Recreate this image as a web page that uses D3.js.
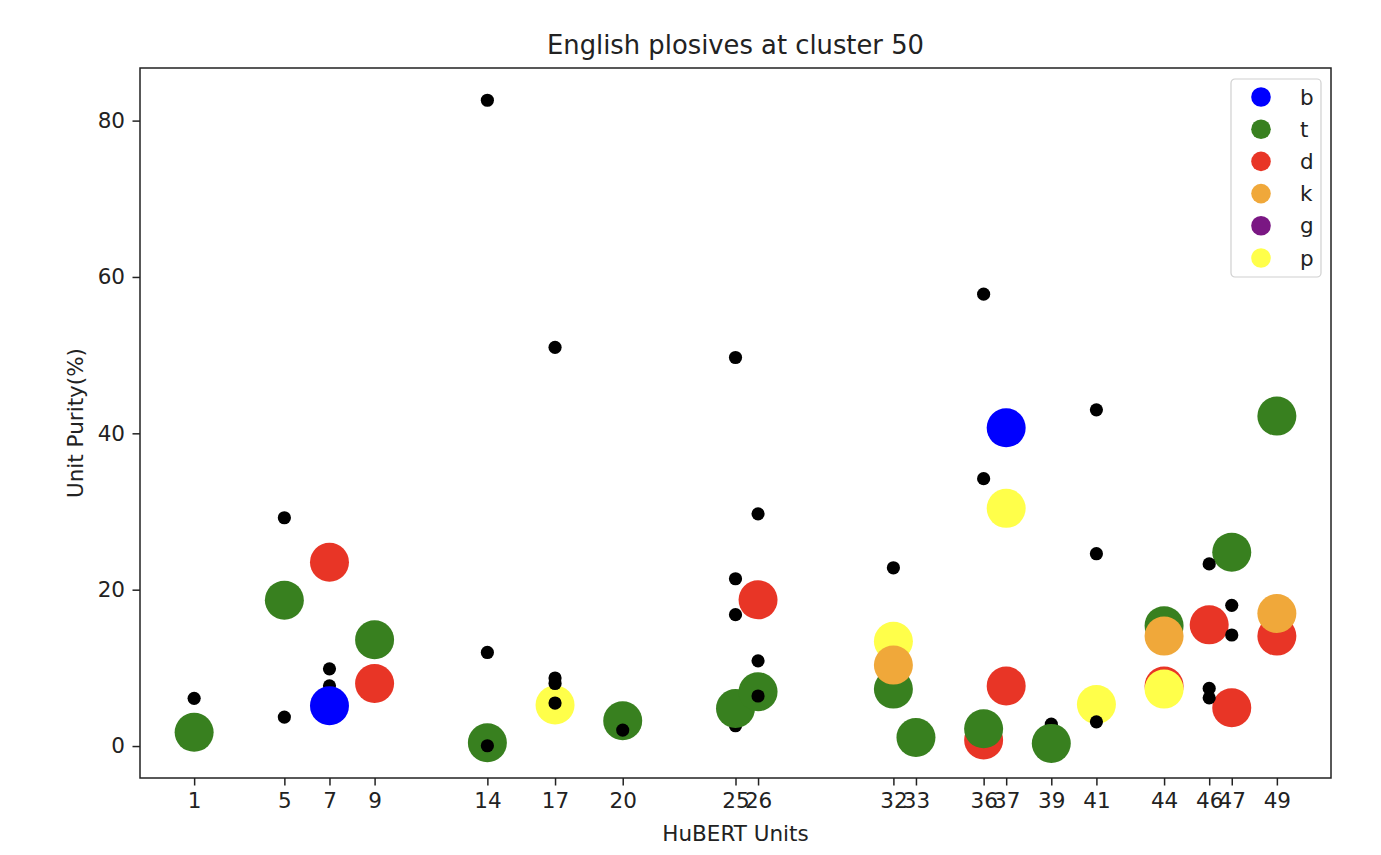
<!DOCTYPE html>
<html>
<head>
<meta charset="utf-8">
<script src="https://cdn.jsdelivr.net/npm/d3@7"></script>
<style>
  html, body { margin: 0; padding: 0; background: #fff; }
  svg { display: block; font-family: "DejaVu Sans", sans-serif; }
</style>
</head>
<body>
<svg id="chart" width="1381" height="855"></svg>
<script>
// Phone labels (legend order) and their colours
const phones = ["b", "t", "d", "k", "g", "p"];
const phoneColors = ["#0000ff", "#38801f", "#e83526", "#f0a83a", "#7a1783", "#ffff4a"];

// Unit purity of each plosive per HuBERT unit
const bUnits = [7, 37];
const bValues = [5.15, 40.7];
const tUnits = [1, 5, 9, 14, 20, 25, 26, 32, 33, 36, 39, 44, 47, 49];
const tValues = [1.75, 18.66, 13.6, 0.42, 3.24, 4.8, 6.95, 7.28, 1.1, 2.2, 0.34, 15.4, 24.8, 42.2];
const dUnits = [7, 9, 26, 36, 37, 44, 46, 47, 49];
const dValues = [23.5, 8.0, 18.7, 0.77, 7.67, 7.67, 15.5, 4.9, 14.06];
const kUnits = [32, 44, 49];
const kValues = [10.35, 14.06, 16.96];
const gUnits = [];
const gValues = [];
const pUnits = [17, 32, 37, 41, 44];
const pValues = [5.24, 13.4, 30.4, 5.32, 7.28];

// Sequence in which the phone series are drawn
const plotOrder = ["d", "t", "p", "b", "k", "g"];

// Purity of the remaining phones in each unit (black dots)
const otherUnitsFirst = [7, 25, 39];
const otherValuesFirst = [7.7, 2.6, 2.8];
const otherUnits = [1, 5, 5, 7, 14, 14, 14, 17, 17, 17, 17, 20, 25, 25, 25, 26, 26, 26,
                    32, 36, 36, 41, 41, 41, 46, 46, 46, 47, 47];
const otherValues = [6.1, 29.2, 3.7, 9.88, 82.6, 11.97, 0.04, 51.0, 8.7, 8.0, 5.5, 2.04, 49.7, 21.4, 16.8, 29.7, 10.9, 6.4,
                     22.8, 57.8, 34.2, 43.0, 24.6, 3.1, 23.3, 7.37, 6.17, 18.0, 14.2];

// Tick labels on the axes
const xTickUnits = [1, 5, 7, 9, 14, 17, 20, 25, 26, 32, 33, 36, 37, 39, 41, 44, 46, 47, 49];
const yTickValues = [0, 20, 40, 60, 80];

const seriesData = {
  b: { units: bUnits, values: bValues },
  t: { units: tUnits, values: tValues },
  d: { units: dUnits, values: dValues },
  k: { units: kUnits, values: kValues },
  g: { units: gUnits, values: gValues },
  p: { units: pUnits, values: pValues }
};
const colorOf = d3.scaleOrdinal().domain(phones).range(phoneColors);

const svg = d3.select("#chart");
const plot = { left: 140, right: 1331, top: 68, bottom: 778 };
const fontSize = 21.5, titleSize = 25.8, tickLen = 7.5, tickPad = 7.5;

// Axis limits with a 5% margin around the data, as autoscaled plots do
const allUnits = [].concat(...phones.map(p => seriesData[p].units), otherUnits, otherUnitsFirst);
const allValues = [].concat(...phones.map(p => seriesData[p].values), otherValues, otherValuesFirst);
const [ux0, ux1] = d3.extent(allUnits);
const [vy0, vy1] = d3.extent(allValues);
const padX = (ux1 - ux0) * 0.05, padY = (vy1 - vy0) * 0.05;

const x = d3.scaleLinear().domain([ux0 - padX, ux1 + padX]).range([plot.left, plot.right]);
const y = d3.scaleLinear().domain([vy0 - padY, vy1 + padY]).range([plot.bottom, plot.top]);

const bigR = 19.5, smallR = 6.6;

svg.append("clipPath").attr("id", "clip").append("rect")
  .attr("x", plot.left).attr("y", plot.top)
  .attr("width", plot.right - plot.left).attr("height", plot.bottom - plot.top);
const marks = svg.append("g").attr("clip-path", "url(#clip)");

function drawDots(units, values, r, fill) {
  marks.append("g").selectAll("circle")
    .data(units.map((u, i) => [u, values[i]]))
    .join("circle")
    .attr("cx", d => x(d[0]))
    .attr("cy", d => y(d[1]))
    .attr("r", r)
    .attr("fill", fill);
}

drawDots(otherUnitsFirst, otherValuesFirst, smallR, "#000");
plotOrder.forEach(p => drawDots(seriesData[p].units, seriesData[p].values, bigR, colorOf(p)));
drawDots(otherUnits, otherValues, smallR, "#000");

// Axes
const xAxis = d3.axisBottom(x).tickValues(xTickUnits).tickFormat(d3.format("d"))
  .tickSizeInner(tickLen).tickSizeOuter(0).tickPadding(tickPad);
const yAxis = d3.axisLeft(y).tickValues(yTickValues).tickFormat(d3.format("d"))
  .tickSizeInner(tickLen).tickSizeOuter(0).tickPadding(tickPad);

const gx = svg.append("g").attr("transform", `translate(0,${plot.bottom})`).call(xAxis);
const gy = svg.append("g").attr("transform", `translate(${plot.left},0)`).call(yAxis);
[gx, gy].forEach(g => {
  g.select(".domain").remove();
  g.selectAll(".tick line").attr("stroke", "#222").attr("stroke-width", 1.5);
  g.selectAll(".tick text").attr("fill", "#222").style("font-size", fontSize + "px")
    .style("font-family", "'DejaVu Sans', sans-serif");
});

// Frame around the plot area
svg.append("rect")
  .attr("x", plot.left).attr("y", plot.top)
  .attr("width", plot.right - plot.left).attr("height", plot.bottom - plot.top)
  .attr("fill", "none").attr("stroke", "#222").attr("stroke-width", 1.5);

// Title and axis labels
svg.append("text").attr("x", (plot.left + plot.right) / 2).attr("y", 54)
  .attr("text-anchor", "middle").attr("fill", "#222").style("font-size", titleSize + "px")
  .text("English plosives at cluster 50");
svg.append("text").attr("x", (plot.left + plot.right) / 2).attr("y", 841)
  .attr("text-anchor", "middle").attr("fill", "#222").style("font-size", fontSize + "px")
  .text("HuBERT Units");
svg.append("text")
  .attr("transform", `translate(83,${(plot.top + plot.bottom) / 2}) rotate(-90)`)
  .attr("text-anchor", "middle").attr("fill", "#222").style("font-size", fontSize + "px")
  .text("Unit Purity(%)");

// Legend
const leg = svg.append("g").attr("transform", "translate(1231,79)");
leg.append("rect").attr("width", 90).attr("height", 198).attr("rx", 4)
  .attr("fill", "#fff").attr("fill-opacity", 0.8).attr("stroke", "#d0d0d0").attr("stroke-width", 1.2);
const rows = leg.selectAll("g.row").data(phones).join("g").attr("class", "row")
  .attr("transform", (d, i) => `translate(0,${18 + i * 32.2})`);
rows.append("circle").attr("cx", 30).attr("cy", 0).attr("r", 9.8).attr("fill", d => colorOf(d));
rows.append("text").attr("x", 69).attr("y", 0).attr("dy", "0.35em")
  .attr("fill", "#222").style("font-size", fontSize + "px").text(d => d);
</script>
</body>
</html>
